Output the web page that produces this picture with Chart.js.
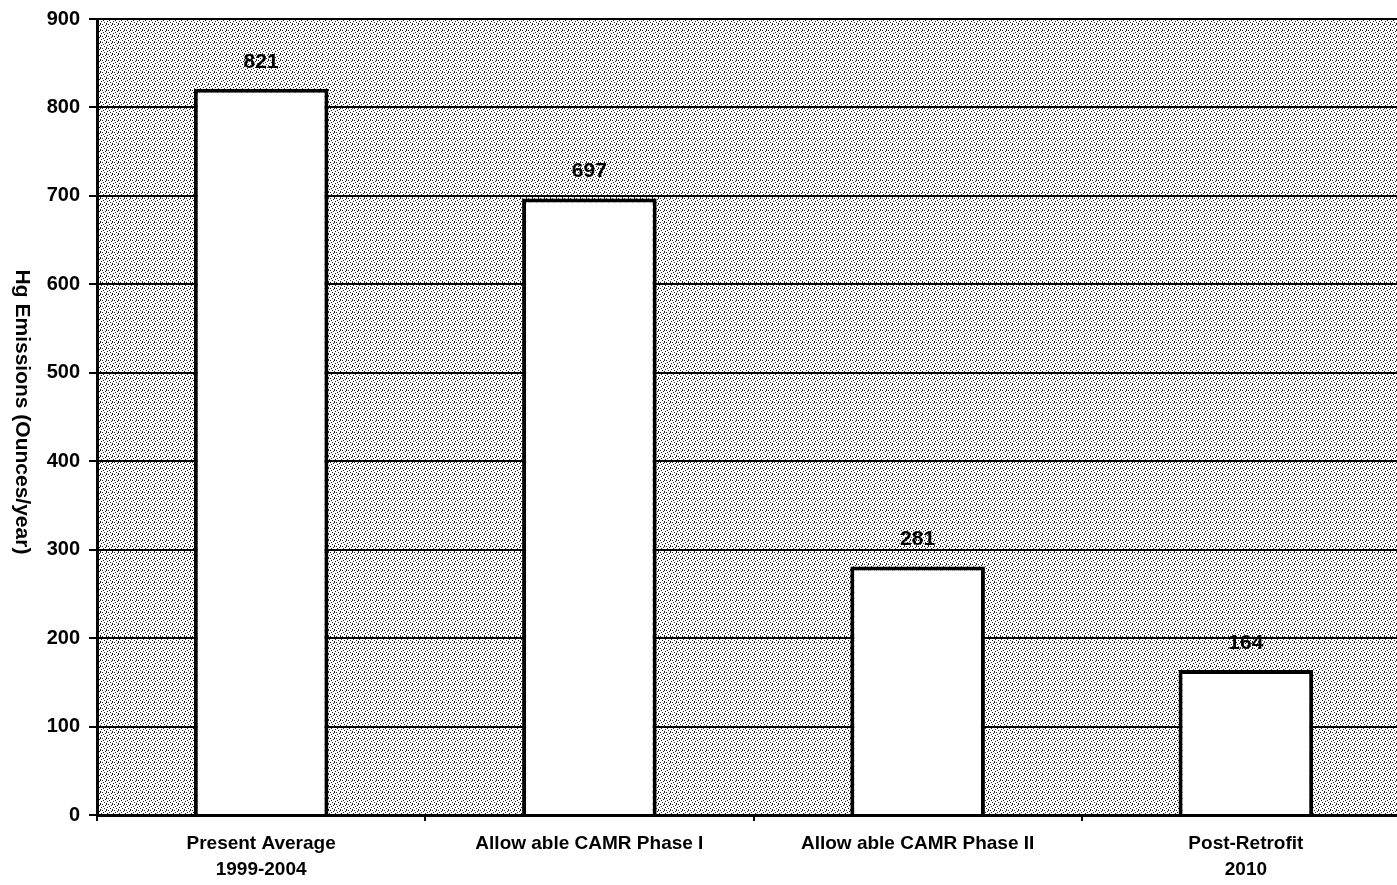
<!DOCTYPE html>
<html>
<head>
<meta charset="utf-8">
<script src="https://cdn.jsdelivr.net/npm/chart.js@4/dist/chart.umd.min.js"></script>
<style>
    html, body { margin: 0; padding: 0; background: #ffffff; overflow: hidden; }
    #wrap { width: 1410px; height: 885px; }
</style>
</head>
<body>
<div id="wrap"><canvas id="hgChart"></canvas></div>
<script>
const categories = [["Present Average", "1999-2004"], "Allow able CAMR Phase I", "Allow able CAMR Phase II", ["Post-Retrofit", "2010"]];
const emissions = [821, 697, 281, 164];
const yTicks = [0, 100, 200, 300, 400, 500, 600, 700, 800, 900];
const yTitle = "Hg Emissions (Ounces/year)";

const fontFamily = "'Liberation Sans', Arial, sans-serif";

// stippled grey fill for the plot area (white paper, black dots)
function makeStipple() {
    const tile = document.createElement("canvas");
    tile.width = 6;
    tile.height = 6;
    const t = tile.getContext("2d");
    t.fillStyle = "#ffffff";
    t.fillRect(0, 0, 6, 6);
    t.fillStyle = "#222222";
    [[0, 0], [3, 1], [1, 2], [5, 3], [2, 4], [4, 5], [4, 0]].forEach(p => t.fillRect(p[0], p[1], 1, 1));
    return t.createPattern(tile, "repeat");
}

const plotBackground = {
    id: "plotBackground",
    beforeDraw(chart) {
        const { ctx, chartArea } = chart;
        ctx.save();
        ctx.fillStyle = makeStipple();
        ctx.fillRect(chartArea.left, chartArea.top, chartArea.right - chartArea.left, chartArea.bottom - chartArea.top);
        ctx.restore();
    },
};

const valueLabels = {
    id: "valueLabels",
    afterDatasetsDraw(chart) {
        const ctx = chart.ctx;
        const meta = chart.getDatasetMeta(0);
        ctx.save();
        ctx.font = "bold 21px " + fontFamily;
        ctx.fillStyle = "#000000";
        ctx.textAlign = "center";
        ctx.textBaseline = "middle";
        meta.data.forEach((bar, i) => {
            ctx.fillText(String(emissions[i]), bar.x, bar.y - 27);
        });
        ctx.restore();
    },
};

// axis title reads top to bottom
const axisTitle = {
    id: "axisTitle",
    afterDraw(chart) {
        const ctx = chart.ctx;
        ctx.save();
        ctx.translate(22, 412);
        ctx.rotate(Math.PI / 2);
        ctx.font = "bold 21px " + fontFamily;
        ctx.fillStyle = "#000000";
        ctx.textAlign = "center";
        ctx.textBaseline = "middle";
        ctx.fillText(yTitle, 0, 0);
        ctx.restore();
    },
};

new Chart(document.getElementById("hgChart"), {
    type: "bar",
    data: {
        labels: categories,
        datasets: [
            {
                data: emissions,
                backgroundColor: "#ffffff",
                borderColor: "#000000",
                borderWidth: 4,
                barPercentage: 0.41,
                categoryPercentage: 1,
            },
        ],
    },
    options: {
        responsive: true,
        maintainAspectRatio: false,
        animation: false,
        layout: { padding: { top: 18, right: 0, bottom: 0, left: 0 } },
        plugins: {
            legend: { display: false },
            tooltip: { enabled: false },
        },
        scales: {
            x: {
                offset: true,
                grid: {
                    display: true,
                    drawOnChartArea: false,
                    color: "#000000",
                    lineWidth: 2,
                    tickLength: 6,
                },
                border: { color: "#000000", width: 3 },
                ticks: {
                    color: "#000000",
                    font: { family: fontFamily, size: 19, weight: "bold", lineHeight: 1.4 },
                    padding: 9,
                    maxRotation: 0,
                },
                afterFit(scale) {
                    scale.height = 70;
                },
            },
            y: {
                min: 0,
                max: 900,
                afterBuildTicks(scale) {
                    scale.ticks = yTicks.map(v => ({ value: v }));
                },
                grid: {
                    color: "#000000",
                    lineWidth: 2,
                    tickLength: 8,
                },
                border: { color: "#000000", width: 3 },
                ticks: {
                    color: "#000000",
                    font: { family: fontFamily, size: 20, weight: "bold", lineHeight: 1 },
                    padding: 9,
                },
                afterFit(scale) {
                    scale.width = 97;
                },
            },
        },
    },
    plugins: [plotBackground, valueLabels, axisTitle],
});
</script>
</body>
</html>
